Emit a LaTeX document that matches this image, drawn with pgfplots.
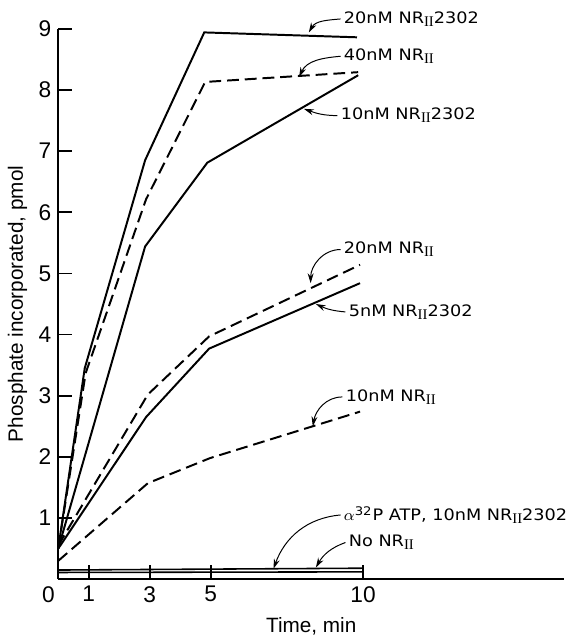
\documentclass[border=0pt]{standalone}
\usepackage{fontspec}
\setmainfont{Liberation Sans}
\newfontfamily\lab[FakeStretch=1.12]{DejaVu Sans}
\newfontfamily\rom{Liberation Serif}
\usepackage{pgfplots}
\pgfplotsset{compat=1.18}
\usetikzlibrary{arrows.meta}

% annotation text: NR with roman II subscript
\newcommand{\NR}{NR\raisebox{-0.35ex}{\rom\fontsize{7.5}{7.5}\selectfont II}}

\begin{document}
\begin{tikzpicture}[>={Stealth[length=5pt,width=3pt]}]
\begin{axis}[
    scale only axis,
    width=256.5pt, height=279pt,
    xmin=0, xmax=16.6,
    ymin=0, ymax=9,
    axis lines=left,
    axis line style={-, line width=0.9pt},
    xtick={1,3,5,10},
    ytick={1,2,3,4,5,6,7,8,9},
    extra x ticks={0},
    extra x tick style={major tick length=0pt, xticklabel style={xshift=-5pt}},
    tick align=inside,
    major tick length=7pt,
    tick style={line width=0.9pt, black},
    xtick pos=left, ytick pos=left,
    ticklabel style={font=\fontsize{11.5}{13}\selectfont},
    /pgf/number format/assume math mode=true,
    xlabel={Time, min},
    ylabel={Phosphate incorporated, pmol},
    label style={font=\fontsize{10.5}{12}\selectfont},
    ylabel style={yshift=-1pt},
    xlabel style={yshift=-1pt},
    clip=false,
    cycle list={{black, solid}},
    no markers,
    every axis plot/.append style={line width=1pt},
]
% 20nM NRII2302
\addplot coordinates {(0,0.5) (0.87,3.45) (2.85,6.85) (4.79,8.94) (9.8,8.86)};
% 40nM NRII
\addplot[black, dash pattern=on 6pt off 3pt] coordinates {(0,0.5) (0.9,3.37) (2.88,6.21) (4.82,8.13) (9.84,8.29)};
% 10nM NRII2302
\addplot coordinates {(0,0.5) (2.85,5.44) (4.89,6.81) (9.84,8.24)};
% 20nM NRII
\addplot[black, dash pattern=on 6pt off 3pt] coordinates {(0,0.55) (2.94,3.02) (4.95,3.97) (9.9,5.14)};
% 5nM NRII2302
\addplot coordinates {(0,0.5) (2.88,2.65) (4.95,3.77) (9.9,4.84)};
% 10nM NRII
\addplot[black, dash pattern=on 6pt off 3pt] coordinates {(0,0.3) (2.94,1.57) (4.98,1.98) (9.9,2.74)};
% alpha32P ATP, 10nM NRII2302
\addplot[black, line width=0.8pt] coordinates {(0,0.15) (10,0.18)};
% No NRII
\addplot[black, line width=0.8pt] coordinates {(0,0.11) (10,0.12)};

\begin{scope}[every node/.style={anchor=west, inner sep=1.5pt, font=\lab\fontsize{8}{9}\selectfont}, line width=0.5pt]
\draw[->] (axis cs:9.26,9.16) node {20nM \NR2302} to[out=185,in=60] (axis cs:8.22,8.94);
\draw[->] (axis cs:9.26,8.55) node {40nM \NR} to[out=185,in=65] (axis cs:7.9,8.21);
\draw[->] (axis cs:9.16,7.58) node {10nM \NR2302} to[out=180,in=-20] (axis cs:8.06,7.69);
\draw[->] (axis cs:9.26,5.39) node {20nM \NR} to[out=180,in=90] (axis cs:8.28,4.84);
\draw[->] (axis cs:9.42,4.37) node {5nM \NR2302} to[out=175,in=-25] (axis cs:8.45,4.5);
\draw[->] (axis cs:9.32,2.98) node {10nM \NR} to[out=180,in=80] (axis cs:8.35,2.5);
\draw[->] (axis cs:9.26,1.05) node {$\alpha$\textsuperscript{32}P ATP, 10nM \NR2302} to[out=185,in=70] (axis cs:7.06,0.17);
\draw[->] (axis cs:9.42,0.6) node {No \NR} to[out=200,in=60] (axis cs:8.45,0.19);
\end{scope}
\path (axis cs:-1.91,9.47) rectangle (axis cs:16.6,-0.89);
\end{axis}
\end{tikzpicture}
\end{document}
